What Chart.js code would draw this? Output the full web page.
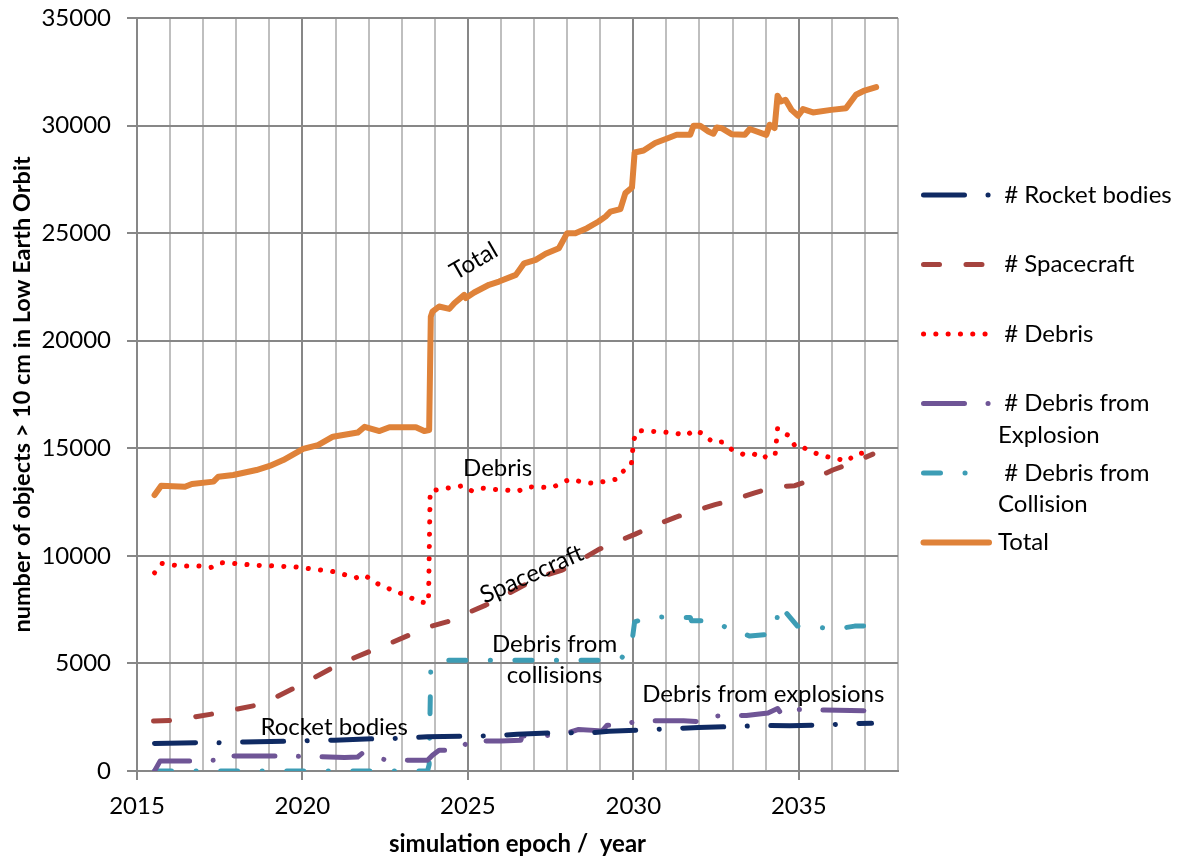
<!DOCTYPE html>
<html>
<head>
<meta charset="utf-8">
<script src="https://cdn.jsdelivr.net/npm/chart.js@4.4.1/dist/chart.umd.min.js"></script>
<style>
  html, body { margin: 0; padding: 0; background: #fff; }
  #wrap { width: 1184px; height: 865px; }
</style>
</head>
<body>
<div id="wrap"><canvas id="leoChart" width="1184" height="865"></canvas></div>
<script>
// Simulated population of objects > 10 cm in LEO, [epoch year, count]
const rocketBodies = [
  [2015.53, 1280], [2016.86, 1320], [2017.56, 1310], [2018.26, 1350], [2019.62, 1390],
  [2020.97, 1430], [2022.38, 1510], [2023.05, 1520], [2023.78, 1590], [2025.09, 1620],
  [2025.79, 1640], [2026.49, 1710], [2027.85, 1790], [2028.55, 1750], [2029.26, 1850],
  [2030.61, 1930], [2031.29, 1975], [2031.97, 2020], [2033.37, 2085], [2034.02, 2115],
  [2034.73, 2100], [2036.08, 2165], [2036.79, 2210], [2037.2, 2220]
];
const spacecraft = [
  [2015.50, 2320], [2016.10, 2360], [2016.76, 2520], [2017.36, 2670], [2018.01, 2870],
  [2018.61, 3060], [2019.22, 3450], [2019.77, 3870], [2020.37, 4350], [2020.92, 4810],
  [2021.52, 5230], [2022.08, 5590], [2022.68, 5960], [2023.23, 6320], [2023.83, 6700],
  [2024.39, 6940], [2024.99, 7350], [2025.54, 7710], [2026.14, 8180], [2026.65, 8600],
  [2027.20, 9030], [2027.85, 9340], [2028.40, 9800], [2028.96, 10300], [2029.51, 10660],
  [2030.06, 11010], [2030.66, 11430], [2031.27, 11790], [2031.87, 12100], [2032.47, 12380],
  [2033.07, 12630], [2033.67, 12930], [2034.27, 13210], [2034.88, 13260], [2035.48, 13600],
  [2036.03, 13990], [2036.64, 14330], [2037.24, 14730]
];
const debris = [
  [2015.53, 9210], [2015.75, 9650], [2016.12, 9570], [2016.48, 9525], [2016.87, 9525],
  [2017.24, 9465], [2017.53, 9680], [2017.89, 9650], [2018.26, 9600], [2018.64, 9560],
  [2019.01, 9540], [2019.39, 9510], [2019.77, 9490], [2020.12, 9420], [2020.50, 9350],
  [2020.87, 9290], [2021.22, 9150], [2021.61, 8980], [2021.88, 9110], [2022.18, 8770],
  [2022.51, 8535], [2022.86, 8330], [2023.21, 8100], [2023.55, 7850], [2023.81, 7820],
  [2023.86, 13010], [2024.23, 13110], [2024.56, 13190], [2024.86, 13260], [2025.11, 13030],
  [2025.41, 13150], [2025.77, 13090], [2026.14, 13060], [2026.52, 13010], [2026.82, 13210],
  [2027.18, 13190], [2027.55, 13170], [2027.83, 13400], [2028.10, 13560], [2028.47, 13430],
  [2028.83, 13370], [2029.17, 13470], [2029.51, 13570], [2029.70, 13940], [2029.94, 14240],
  [2030.01, 15370], [2030.12, 15820], [2030.49, 15790], [2030.86, 15770], [2031.24, 15710],
  [2031.61, 15600], [2031.83, 15850], [2032.12, 15670], [2032.40, 15280], [2032.67, 15290],
  [2032.97, 14950], [2033.32, 14720], [2033.60, 14770], [2033.93, 14520], [2034.12, 14800],
  [2034.29, 14750], [2034.36, 15930], [2034.48, 15760], [2034.70, 15590], [2034.90, 15070],
  [2035.10, 15070], [2035.38, 14840], [2035.75, 14640], [2036.10, 14535], [2036.46, 14395],
  [2036.71, 14730], [2037.04, 14800], [2037.2, 14820]
];
const debrisExplosion = [
  [2015.53, 0], [2015.70, 470], [2016.65, 470], [2017.31, 500], [2017.36, 690],
  [2018.56, 700], [2019.27, 700], [2020.57, 660], [2021.27, 630], [2021.67, 650],
  [2021.82, 840], [2022.02, 660], [2022.48, 535], [2023.18, 500], [2023.78, 500],
  [2023.93, 735], [2024.13, 965], [2024.33, 965], [2024.84, 1350], [2024.99, 1150],
  [2025.14, 1385], [2026.00, 1400], [2026.60, 1430], [2026.64, 1620], [2027.80, 1665],
  [2028.35, 1930], [2029.06, 1865], [2029.21, 2130], [2029.61, 2130], [2030.16, 2330],
  [2031.52, 2330], [2032.22, 2285], [2032.47, 2560], [2033.42, 2580], [2034.07, 2700],
  [2034.36, 2905], [2034.48, 2640], [2034.58, 2860], [2035.13, 2860], [2035.78, 2830],
  [2037.14, 2795]
];
const debrisCollision = [
  [2015.53, 0], [2023.78, 0], [2023.83, 300], [2023.88, 4840], [2024.39, 5150],
  [2029.00, 5150], [2029.66, 5280], [2029.96, 6000], [2030.04, 6935], [2030.58, 7165],
  [2031.26, 7140], [2031.72, 7140], [2031.76, 6980], [2032.32, 6980], [2032.97, 6580],
  [2033.52, 6270], [2034.10, 6350], [2034.33, 6780], [2034.38, 7710], [2034.51, 7560],
  [2034.96, 6735], [2035.53, 6700], [2036.08, 6580], [2036.69, 6735], [2037.00, 6740]
];
const total = [
  [2015.53, 12830], [2015.73, 13260], [2016.45, 13210], [2016.66, 13340], [2017.31, 13450],
  [2017.46, 13680], [2017.91, 13760], [2018.61, 13990], [2019.01, 14180], [2019.42, 14455],
  [2020.02, 14970], [2020.47, 15150], [2020.92, 15540], [2021.67, 15730], [2021.88, 16000],
  [2022.33, 15800], [2022.63, 15980], [2023.43, 15980], [2023.68, 15800], [2023.83, 15850],
  [2023.88, 21120], [2023.93, 21350], [2024.13, 21590], [2024.44, 21480], [2024.59, 21740],
  [2024.89, 22130], [2024.94, 21980], [2025.19, 22240], [2025.64, 22600], [2025.94, 22750],
  [2026.45, 23060], [2026.70, 23600], [2027.05, 23760], [2027.35, 24040], [2027.75, 24300],
  [2028.00, 25000], [2028.25, 25000], [2028.60, 25230], [2028.95, 25540], [2029.16, 25770],
  [2029.31, 26000], [2029.61, 26120], [2029.76, 26860], [2029.96, 27120], [2030.04, 28750],
  [2030.31, 28840], [2030.66, 29190], [2031.06, 29420], [2031.31, 29570], [2031.72, 29570],
  [2031.82, 29990], [2032.02, 29990], [2032.27, 29725], [2032.42, 29620], [2032.52, 29910],
  [2032.67, 29880], [2032.97, 29600], [2033.37, 29570], [2033.52, 29840], [2034.02, 29570],
  [2034.12, 30040], [2034.27, 29880], [2034.36, 31385], [2034.46, 31120], [2034.60, 31200],
  [2034.78, 30730], [2034.98, 30455], [2035.13, 30765], [2035.43, 30610], [2035.98, 30730],
  [2036.43, 30810], [2036.73, 31430], [2036.99, 31630], [2037.34, 31790]
];

// Text placed on the plot next to each curve: [lines, year, count, rotation in degrees]
const curveNotes = [
  [['Total'], 2025.18, 23700, -30],
  [['Debris'], 2025.90, 14050, 0],
  [['Spacecraft'], 2026.93, 9150, -24],
  [['Debris from', 'collisions'], 2027.62, 5150, 0],
  [['Rocket bodies'], 2020.96, 2030, 0],
  [['Debris from explosions'], 2033.93, 3580, 0]
];

const FONT = 'Lato, "Open Sans", sans-serif';

const series = [
  { label: ['# Rocket bodies'], pts: rocketBodies, color: '#0f2a63', width: 5, dash: [41, 23.5, 0.1, 23.5] },
  { label: ['# Spacecraft'], pts: spacecraft, color: '#a5433e', width: 5, dash: [16, 26.5] },
  { label: ['# Debris'], pts: debris, color: '#ff0000', width: 5, dash: [0.1, 12.2] },
  { label: ['# Debris from', 'Explosion'], pts: debrisExplosion, color: '#6f5596', width: 5, dash: [41, 23.5, 0.1, 23.5] },
  { label: ['# Debris from', 'Collision'], pts: debrisCollision, color: '#3d9db5', width: 5, dash: [17, 24.5, 0.1, 24.5] },
  { label: ['Total'], pts: total, color: '#df8239', width: 6, dash: [] }
];

// right-hand legend, laid out one entry under the other
const sideLegend = {
  id: 'sideLegend',
  afterDraw(chart) {
    const ctx = chart.ctx;
    ctx.save();
    ctx.font = '24px ' + FONT;
    ctx.fillStyle = '#000';
    ctx.textBaseline = 'middle';
    chart.data.datasets.forEach((ds, i) => {
      const y = 195 + i * 69.5;
      ctx.beginPath();
      ctx.strokeStyle = ds.borderColor;
      ctx.lineWidth = ds.borderWidth;
      ctx.lineCap = 'round';
      ctx.setLineDash(ds.borderDash);
      ctx.moveTo(923.5, y);
      ctx.lineTo(989, y);
      ctx.stroke();
      const lines = series[i].label;
      lines.forEach((t, j) => {
        const txt = (j === 0 && t !== 'Total') ? ' ' + t : t;
        ctx.fillText(txt, 998, y + j * 31.5);
      });
    });
    ctx.restore();
  }
};

const curveLabels = {
  id: 'curveLabels',
  afterDatasetsDraw(chart) {
    const { ctx, scales } = chart;
    ctx.save();
    ctx.font = '24px ' + FONT;
    ctx.fillStyle = '#000';
    ctx.textAlign = 'center';
    ctx.textBaseline = 'middle';
    curveNotes.forEach(([lines, yr, val, rot]) => {
      ctx.save();
      ctx.translate(scales.x.getPixelForValue(yr), scales.y.getPixelForValue(val));
      ctx.rotate(rot * Math.PI / 180);
      lines.forEach((t, j) => ctx.fillText(t, 0, (j - (lines.length - 1) / 2) * 31));
      ctx.restore();
    });
    ctx.restore();
  }
};

function build() {
  new Chart(document.getElementById('leoChart'), {
    type: 'line',
    data: {
      datasets: series.map(s => ({
        label: s.label.join(' '),
        data: s.pts.map(([x, y]) => ({ x, y })),
        borderColor: s.color,
        borderWidth: s.width,
        borderDash: s.dash,
        borderCapStyle: 'round',
        borderJoinStyle: 'round',
        pointRadius: 0,
        fill: false,
        tension: 0
      }))
    },
    options: {
      responsive: false,
      animation: false,
      layout: { padding: { left: 0, top: 18, right: 286, bottom: 0 } },
      plugins: { legend: { display: false }, tooltip: { enabled: false } },
      scales: {
        x: {
          type: 'linear',
          min: 2015,
          max: 2038,
          afterFit: s => { s.height = 94; },
          ticks: {
            stepSize: 1,
            autoSkip: false,
            maxRotation: 0,
            padding: 12,
            color: '#000',
            font: { family: FONT, size: 24 },
            callback: v => (v % 5 === 0 ? String(v) : '')
          },
          grid: {
            lineWidth: 2,
            tickLength: 9,
            color: c => (c.tick && c.tick.value % 5 === 0 ? '#878787' : '#bfbfbf'),
            tickColor: c => (c.tick && c.tick.value % 5 === 0 ? '#878787' : 'rgba(0,0,0,0)')
          },
          border: { color: '#878787', width: 2 },
          title: {
            display: true,
            text: 'simulation epoch /  year',
            color: '#000',
            font: { family: FONT, size: 24, weight: 'bold' },
            padding: { top: 0, bottom: 6 }
          }
        },
        y: {
          min: 0,
          max: 35000,
          // keep the plot top at the layout padding, the 35000 label may overhang it
          afterFit: s => { s.width = 137; s.paddingTop = 12; s.paddingBottom = 12; },
          ticks: {
            stepSize: 5000,
            padding: 16,
            color: '#000',
            font: { family: FONT, size: 24 },
            callback: v => String(v)
          },
          grid: { lineWidth: 2, tickLength: 10, color: '#878787', tickColor: '#878787' },
          border: { color: '#878787', width: 2 },
          title: {
            display: true,
            text: 'number of objects > 10 cm in Low Earth Orbit',
            color: '#000',
            font: { family: FONT, size: 23.5, weight: 'bold' },
            padding: { top: 8, bottom: 0 }
          }
        }
      }
    },
    plugins: [curveLabels, sideLegend]
  });
}

Promise.all([
  document.fonts.load('24px Lato'),
  document.fonts.load('bold 24px Lato')
]).then(build, build);
</script>
</body>
</html>
